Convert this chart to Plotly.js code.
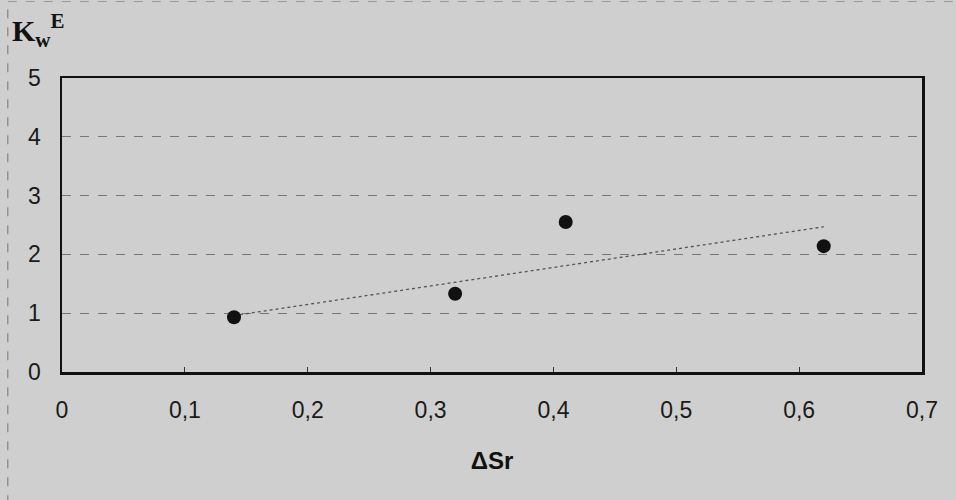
<!DOCTYPE html>
<html>
<head>
<meta charset="utf-8">
<script src="https://cdn.plot.ly/plotly-3.0.1.min.js"></script>
<style>html,body{margin:0;padding:0;background:#cfcfcf;}#chart{width:956px;height:500px;}</style>
</head>
<body>
<div id="chart"></div>
<script>
// Data
const deltaSr = [0.14, 0.32, 0.41, 0.62];
const kwE = [0.93, 1.33, 2.55, 2.14];
const trendX = [0.14, 0.62];
const trendY = [0.96, 2.47];
const xTickVals = [0, 0.1, 0.2, 0.3, 0.4, 0.5, 0.6, 0.7];
const xTickText = ['0', '0,1', '0,2', '0,3', '0,4', '0,5', '0,6', '0,7'];
const yTickVals = [0, 1, 2, 3, 4, 5];

const traces = [
  {x: trendX, y: trendY, mode: 'lines', type: 'scatter',
   line: {color: '#555', width: 1.3, dash: 'dot'}, hoverinfo: 'skip'},
  {x: deltaSr, y: kwE, mode: 'markers', type: 'scatter',
   marker: {color: '#111', size: 14}}
];

const layout = {
  width: 956, height: 500,
  paper_bgcolor: '#cfcfcf', plot_bgcolor: '#cfcfcf',
  showlegend: false,
  margin: {l: 62, r: 34, t: 78, b: 128},
  font: {family: 'Liberation Sans, Arial, sans-serif', color: '#1a1a1a', size: 23},
  xaxis: {
    range: [0, 0.7], tickvals: xTickVals, ticktext: xTickText,
    showgrid: false, zeroline: false,
    showline: true, linecolor: '#111', linewidth: 2.5, mirror: true,
    ticks: 'inside', ticklen: 5, tickcolor: '#333', tickwidth: 1,
    ticklabelstandoff: 16,
    title: {text: '<b>ΔSr</b>', font: {size: 24, color: '#111'}, standoff: 30}
  },
  yaxis: {
    range: [0, 5], tickvals: yTickVals,
    showgrid: true, gridcolor: '#777', griddash: 'dash', gridwidth: 1,
    zeroline: false,
    showline: true, linecolor: '#111', linewidth: 2.5, mirror: true,
    ticks: '', ticklabelstandoff: 14
  },
  annotations: [
    {xref: 'paper', yref: 'paper', x: -0.06, y: 1.08, xanchor: 'left', yanchor: 'bottom',
     text: '<b>K<sub>w</sub><sup>E</sup></b>', showarrow: false,
     font: {family: 'Liberation Serif, Times New Roman, serif', size: 30, color: '#111'}}
  ],
  shapes: [
    {type: 'line', xref: 'paper', yref: 'paper', x0: -0.063, x1: -0.063, y0: -0.45, y1: 1.26,
     line: {color: '#777', width: 1, dash: 'dash'}},
    {type: 'line', xref: 'paper', yref: 'paper', x0: -0.063, x1: 1.04, y0: 1.26, y1: 1.26,
     line: {color: '#999', width: 1, dash: 'dash'}}
  ]
};

Plotly.newPlot('chart', traces, layout, {displayModeBar: false, staticPlot: true});
</script>
</body>
</html>
